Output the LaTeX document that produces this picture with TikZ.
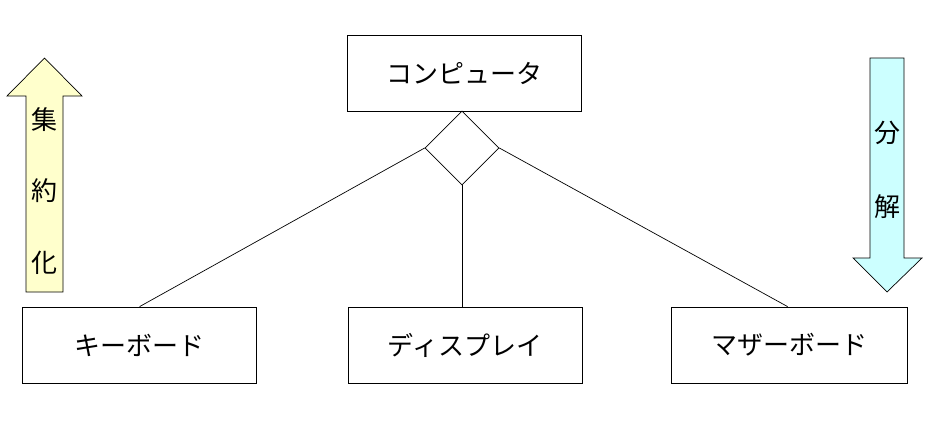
\documentclass[tikz,border=0pt]{standalone}
\usepackage{fontspec}
\setmainfont{Noto Sans CJK JP}
\usetikzlibrary{shapes.geometric}
\definecolor{upfill}{HTML}{FFFFCC}
\definecolor{downfill}{HTML}{CCFFFF}
\begin{document}
\begin{tikzpicture}[x=1pt,y=-1pt,
  ent/.style={draw=black,line width=0.8pt,minimum width=234pt,minimum height=76pt,inner sep=0pt,font=\fontsize{26}{30}\selectfont},
  link/.style={draw=black,line width=0.7pt},
  arrowtxt/.style={font=\fontsize{26}{30}\selectfont,inner sep=0pt}]
\useasboundingbox (0,0) rectangle (931,423);
\fill[white] (0,0) rectangle (931,423);
% entities
\node[ent] (pc) at (464.5,73) {コンピュータ};
\node[ent] (kb) at (139,345) {キーボード};
\node[ent] (disp) at (465,345) {ディスプレイ};
\node[ent,minimum width=236pt] (mb) at (789,345) {マザーボード};
% diamond
\node[diamond,draw=black,line width=0.7pt,minimum width=74pt,minimum height=74pt,inner sep=0pt,shape aspect=1] (dia) at (462,148) {};
\coordinate (kbtop) at ([xshift=118pt]kb.north west);
\coordinate (mbtop) at ([xshift=117pt]mb.north west);
\draw[link] (dia.west) -- (kbtop);
\draw[link] (dia.east) -- (mbtop);
\draw[link] (dia.south) -- (dia.south |- disp.north);
% up arrow (aggregation)
\draw[fill=upfill,line width=0.7pt] (26,292) -- (26,96) -- (7,96) -- (44.5,58) -- (82,96) -- (63,96) -- (63,292) -- cycle;
\node[arrowtxt] (t1) at (44.5,120) {集};
\node[arrowtxt] (t2) at (44.5,191) {約};
\node[arrowtxt] (t3) at (44.5,263) {化};
% down arrow (decomposition)
\draw[fill=downfill,line width=0.7pt] (870,58) -- (904,58) -- (904,258) -- (922,258) -- (887,292) -- (853,258) -- (870,258) -- cycle;
\node[arrowtxt] (t4) at (887,133) {分};
\node[arrowtxt] (t5) at (887,207) {解};
\end{tikzpicture}
\end{document}
